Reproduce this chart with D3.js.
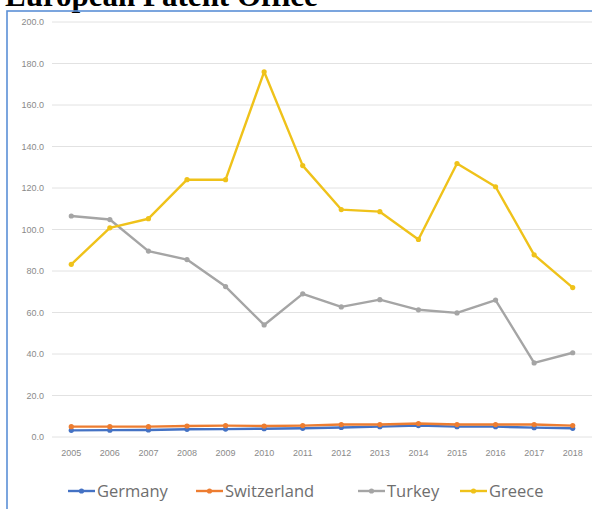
<!DOCTYPE html>
<html>
<head>
<meta charset="utf-8">
<script src="https://cdn.jsdelivr.net/npm/d3@7"></script>
<style>
  body { margin: 0; background: #fff; }
  svg { display: block; }
</style>
</head>
<body>
<div id="chart"></div>
<script>
const years = ["2005","2006","2007","2008","2009","2010","2011","2012","2013","2014","2015","2016","2017","2018"]
const germany = [3.2, 3.3, 3.4, 3.7, 3.8, 4.0, 4.2, 4.6, 5.0, 5.5, 5.0, 5.0, 4.5, 4.2]
const switzerland = [5.0, 5.0, 5.0, 5.3, 5.5, 5.3, 5.5, 6.0, 6.0, 6.5, 6.0, 6.0, 6.0, 5.5]
const turkey = [106.5, 104.8, 89.6, 85.5, 72.5, 54.0, 69.0, 62.7, 66.2, 61.3, 59.8, 66.0, 35.7, 40.6]
const greece = [83.2, 100.8, 105.2, 124.0, 124.0, 176.0, 130.8, 109.6, 108.6, 95.2, 131.8, 120.6, 87.8, 72.0]
const yTicks = [0, 20, 40, 60, 80, 100, 120, 140, 160, 180, 200]

const series = [
    {name: "Germany", values: germany, color: "#4472C4"},
    {name: "Switzerland", values: switzerland, color: "#ED7D31"},
    {name: "Turkey", values: turkey, color: "#A5A5A5"},
    {name: "Greece", values: greece, color: "#EFC21A"}
]

const width = 592
const height = 509
const margin = {top: 22, left: 52, right: 0, bottom: 72}

const svg = d3.select("#chart")
    .append("svg")
    .attr("width", width)
    .attr("height", height)

// title, cut off at the top like the source
svg.append("text")
    .attr("x", 5)
    .attr("y", 6)
    .attr("font-family", "'Liberation Serif', 'Times New Roman', serif")
    .attr("font-weight", "bold")
    .attr("font-size", 31)
    .attr("fill", "#000")
    .text("European Patent Office")

// chart frame
svg.append("rect")
    .attr("x", 7)
    .attr("y", 11)
    .attr("width", width + 10)
    .attr("height", height)
    .attr("fill", "none")
    .attr("stroke", "#5B8FD6")
    .attr("stroke-width", 1.6)

const x = d3.scaleBand()
    .domain(years)
    .range([margin.left, width - margin.right])

const y = d3.scaleLinear()
    .domain([0, 200])
    .range([437, margin.top])

// gridlines
svg.append("g")
    .selectAll("line")
    .data(yTicks)
    .join("line")
    .attr("x1", margin.left)
    .attr("x2", width)
    .attr("y1", d => y(d))
    .attr("y2", d => y(d))
    .attr("stroke", "#e2e2e2")
    .attr("stroke-width", 1)

// y labels
svg.append("g")
    .selectAll("text")
    .data(yTicks)
    .join("text")
    .attr("x", 44)
    .attr("y", d => y(d) + 3)
    .attr("text-anchor", "end")
    .attr("font-family", "'Liberation Sans', Arial, sans-serif")
    .attr("font-size", 9)
    .attr("fill", "#8a8a8a")
    .text(d => d.toFixed(1))

// x labels
svg.append("g")
    .selectAll("text")
    .data(years)
    .join("text")
    .attr("x", d => x(d) + x.bandwidth() / 2)
    .attr("y", 456)
    .attr("text-anchor", "middle")
    .attr("font-family", "'Liberation Sans', Arial, sans-serif")
    .attr("font-size", 9)
    .attr("fill", "#8a8a8a")
    .text(d => d)

const line = d3.line()
    .x((d, i) => x(years[i]) + x.bandwidth() / 2)
    .y(d => y(d))

const groups = svg.append("g")
    .selectAll("g")
    .data(series)
    .join("g")

groups.append("path")
    .attr("d", d => line(d.values))
    .attr("fill", "none")
    .attr("stroke", d => d.color)
    .attr("stroke-width", 2.4)
    .attr("stroke-linejoin", "round")

groups.selectAll("circle")
    .data(d => d.values.map(v => ({v, color: d.color})))
    .join("circle")
    .attr("cx", (d, i) => x(years[i]) + x.bandwidth() / 2)
    .attr("cy", d => y(d.v))
    .attr("r", 2.6)
    .attr("fill", d => d.color)

// legend
const legendX = [68, 196, 358, 460]
const legend = svg.append("g")
    .selectAll("g")
    .data(series)
    .join("g")
    .attr("transform", (d, i) => `translate(${legendX[i]}, 491)`)

legend.append("line")
    .attr("x1", 0)
    .attr("x2", 27)
    .attr("stroke", d => d.color)
    .attr("stroke-width", 2.4)

legend.append("circle")
    .attr("cx", 13.5)
    .attr("r", 2.6)
    .attr("fill", d => d.color)

legend.append("text")
    .attr("x", 29)
    .attr("y", 6)
    .attr("font-family", "'Open Sans', 'Liberation Sans', sans-serif")
    .attr("font-size", 16.5)
    .attr("fill", "#6e6e6e")
    .text(d => d.name)
</script>
</body>
</html>
